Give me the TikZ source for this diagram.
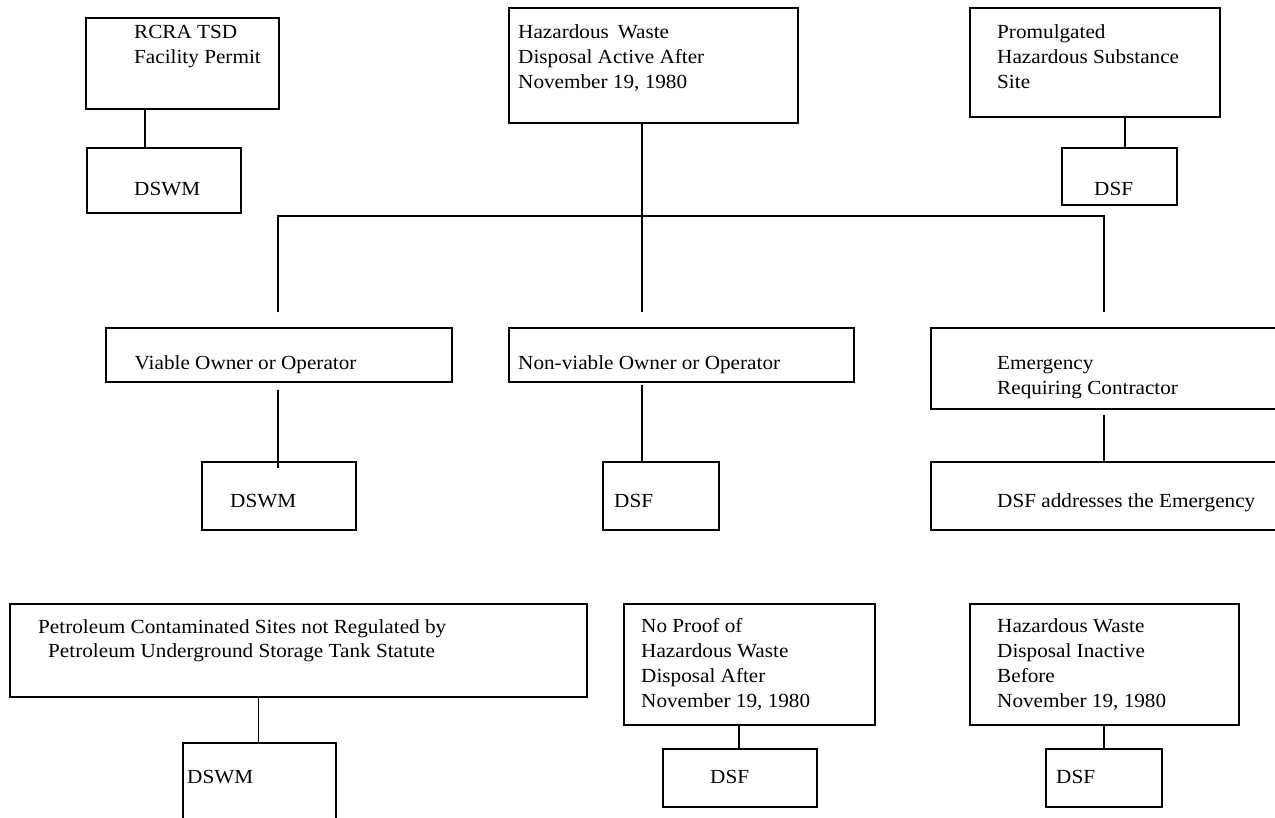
\documentclass[tikz,border=0pt]{standalone}
\usepackage{fontspec}
\setmainfont{Liberation Serif}[FakeStretch=1.06]
\usetikzlibrary{calc}
\begin{document}
\begin{tikzpicture}[x=1pt,y=-1pt,
  box/.style={draw,line width=1.6pt,inner sep=0pt,anchor=north west},
  lbl/.style={anchor=base west,inner sep=0pt,font=\fontsize{20}{25}\selectfont},
  conn/.style={line width=1.3pt}]
\clip (0,0) rectangle (1275,817);
\fill[white] (0,0) rectangle (1275,817);

% boxes
\node[box,minimum width=193pt,minimum height=91pt] (rcra) at (85,17) {};
\node[box,minimum width=154pt,minimum height=65pt] (dswmA) at (86,147) {};
\node[box,minimum width=289pt,minimum height=115pt] (hwa) at (508,7) {};
\node[box,minimum width=250pt,minimum height=109pt] (prom) at (969,7) {};
\node[box,minimum width=115pt,minimum height=57pt] (dsfA) at (1061,147) {};
\node[box,minimum width=346pt,minimum height=54pt] (viable) at (105,327) {};
\node[box,minimum width=345pt,minimum height=54pt] (nonv) at (508,327) {};
\node[box,minimum width=360pt,minimum height=81pt] (emerg) at (930,327) {};
\node[box,minimum width=154pt,minimum height=68pt] (dswmB) at (201,461) {};
\node[box,minimum width=116pt,minimum height=68pt] (dsfB) at (602,461) {};
\node[box,minimum width=360pt,minimum height=68pt] (dsfE) at (930,461) {};
\node[box,minimum width=577pt,minimum height=93pt] (petro) at (9,603) {};
\node[box,minimum width=153pt,minimum height=90pt] (dswmC) at (182,742) {};
\node[box,minimum width=251pt,minimum height=121pt] (noproof) at (623,603) {};
\node[box,minimum width=154pt,minimum height=58pt] (dsfC) at (662,748) {};
\node[box,minimum width=269pt,minimum height=121pt] (hwi) at (969,603) {};
\node[box,minimum width=116pt,minimum height=58pt] (dsfD) at (1045,748) {};

% connector x positions and free ends
\coordinate (xA) at (145,0);
\coordinate (xP) at (1125,0);
\coordinate (busL) at (278,216);
\coordinate (busC) at (642,216);
\coordinate (busR) at (1104,216);
\coordinate (vL) at (278,312);
\coordinate (vC) at (642,312);
\coordinate (vR) at (1104,312);
\coordinate (xPe) at (258.5,0);
\coordinate (xN) at (739,0);

% connectors
\draw[conn] (rcra.south -| xA) -- (dswmA.north -| xA);
\draw[conn] (prom.south -| xP) -- (dsfA.north -| xP);
\draw[conn] (hwa.south -| busC) -- (vC);
\draw[conn] (vL) -- (busL) -- (busR) -- (vR);
\draw[conn] ($(viable.south -| vL)+(0,7)$) -- ($(dswmB.north -| vL)+(0,7)$);
\draw[conn] ($(nonv.south -| vC)+(0,2)$) -- (dsfB.north -| vC);
\draw[conn] ($(emerg.south -| vR)+(0,5)$) -- (dsfE.north -| vR);
\draw[conn] (petro.south -| xPe) -- (dswmC.north -| xPe);
\draw[conn] (noproof.south -| xN) -- (dsfC.north -| xN);
\draw[conn] (hwi.south -| vR) -- (dsfD.north -| vR);

% texts
\node[lbl] (t1a) at (134,38) {RCRA TSD};
\node[lbl] (t1b) at (134,63) {Facility Permit};
\node[lbl] (t2) at (134,195) {DSWM};
\node[lbl] (t3a) at (518,38) {Hazardous\hspace{0.45em}Waste};
\node[lbl] (t3b) at (518,63) {Disposal Active After};
\node[lbl] (t3c) at (518,88) {November 19, 1980};
\node[lbl] (t4a) at (997,38) {Promulgated};
\node[lbl] (t4b) at (997,63) {Hazardous Substance};
\node[lbl] (t4c) at (997,88) {Site};
\node[lbl] (t5) at (1094,195) {DSF};
\node[lbl] (t6) at (134.5,369) {Viable Owner or Operator};
\node[lbl] (t7) at (518,369) {Non-viable Owner or Operator};
\node[lbl] (t8a) at (997,369) {Emergency};
\node[lbl] (t8b) at (997,394) {Requiring Contractor};
\node[lbl] (t9) at (230,507) {DSWM};
\node[lbl] (t10) at (614,507) {DSF};
\node[lbl] (t11) at (997,507) {DSF addresses the Emergency};
\node[lbl] (t12a) at (38,633) {Petroleum Contaminated Sites not Regulated by};
\node[lbl] (t12b) at (48,657) {Petroleum Underground Storage Tank Statute};
\node[lbl] (t13) at (187,783) {DSWM};
\node[lbl] (t14a) at (641,632) {No Proof of};
\node[lbl] (t14b) at (641,657) {Hazardous Waste};
\node[lbl] (t14c) at (641,682) {Disposal After};
\node[lbl] (t14d) at (641,707) {November 19, 1980};
\node[lbl] (t15) at (710,783) {DSF};
\node[lbl] (t16a) at (997,632) {Hazardous Waste};
\node[lbl] (t16b) at (997,657) {Disposal Inactive};
\node[lbl] (t16c) at (997,682) {Before};
\node[lbl] (t16d) at (997,707) {November 19, 1980};
\node[lbl] (t17) at (1056,783) {DSF};
\end{tikzpicture}
\end{document}
